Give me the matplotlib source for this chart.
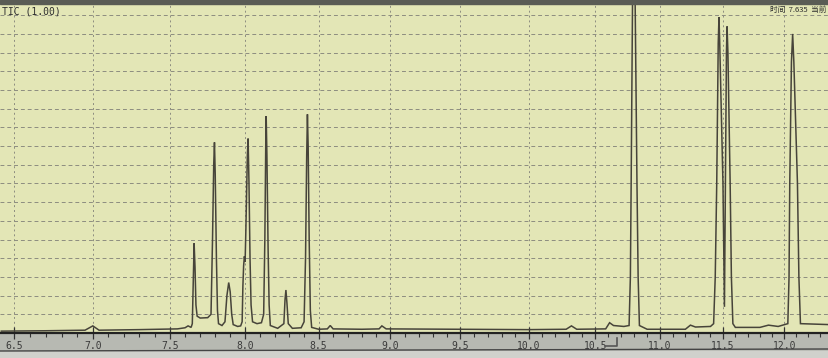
import numpy as np
import matplotlib
matplotlib.use('Agg')
import matplotlib.pyplot as plt
from matplotlib.ticker import MultipleLocator, FormatStrFormatter
from matplotlib.patches import Rectangle
from matplotlib.lines import Line2D

# retention time (min) and detector signal (grid units)
time_min = [
    6.42, 6.70, 6.95, 7.00, 7.04, 7.30, 7.55, 7.60, 7.62, 7.64,
    7.648, 7.655, 7.660, 7.666, 7.672, 7.680, 7.700, 7.750,
    7.772, 7.782, 7.790, 7.795, 7.800, 7.808, 7.815, 7.822, 7.845,
    7.865, 7.878, 7.890, 7.900, 7.910, 7.920, 7.950, 7.970,
    7.980, 7.985, 7.990, 7.995, 8.000, 8.005, 8.015, 8.020, 8.026, 8.033, 8.040, 8.050,
    8.080, 8.110, 8.125, 8.133, 8.139, 8.142, 8.147, 8.155, 8.162, 8.170,
    8.220, 8.262, 8.270, 8.276, 8.283, 8.292, 8.320, 8.380,
    8.400, 8.410, 8.418, 8.423, 8.428, 8.435, 8.443, 8.452,
    8.50, 8.56, 8.58, 8.60, 8.80, 8.92, 8.94, 8.97, 9.50, 10.00,
    10.28, 10.32, 10.36, 10.58, 10.61, 10.64, 10.72,
    10.760, 10.770, 10.776, 10.788, 10.795, 10.805, 10.821, 10.830, 10.840,
    10.90, 11.20, 11.24, 11.28, 11.40,
    11.425, 11.438, 11.450, 11.462, 11.468, 11.474, 11.500, 11.512,
    11.520, 11.528, 11.533, 11.540, 11.558, 11.568, 11.580,
    11.60, 11.80, 11.87, 11.95,
    12.030, 12.040, 12.046, 12.060, 12.070, 12.080, 12.110, 12.122, 12.135,
    12.375,
]
signal = [
    0.10, 0.12, 0.15, 0.38, 0.15, 0.18, 0.22, 0.28, 0.38, 0.30,
    0.5, 3.0, 4.8, 3.5, 1.5, 0.9, 0.80, 0.82,
    1.0, 5.0, 9.0, 10.2, 8.5, 4.0, 1.2, 0.5, 0.40,
    0.6, 2.0, 2.7, 2.2, 1.0, 0.45, 0.35, 0.38,
    0.6, 2.5, 3.6, 4.1, 3.8, 5.5, 9.5, 10.4, 8.0, 4.0, 1.5, 0.6,
    0.50, 0.55, 1.0, 5.0, 10.0, 11.6, 9.5, 4.5, 1.5, 0.4,
    0.25, 0.5, 1.8, 2.3, 1.6, 0.5, 0.25, 0.28,
    0.6, 4.0, 9.5, 11.7, 10.0, 5.0, 1.2, 0.3,
    0.2, 0.22, 0.40, 0.22, 0.2, 0.22, 0.38, 0.22, 0.2, 0.18,
    0.2, 0.38, 0.2, 0.22, 0.55, 0.40, 0.35,
    0.4, 3.0, 8.0, 19.0, 21.0, 19.0, 8.0, 3.0, 0.4,
    0.2, 0.2, 0.42, 0.32, 0.35,
    0.5, 3.0, 8.0, 15.5, 16.9, 15.5, 8.0, 1.4,
    8.0, 15.0, 16.4, 15.0, 8.0, 3.0, 0.5,
    0.3, 0.3, 0.42, 0.35,
    0.5, 3.0, 8.0, 14.5, 16.0, 14.5, 8.0, 3.0, 0.5,
    0.45,
]

header_text = 'TIC (1.00)'
cursor_text = '时间  7.635  当前'

# the photo is taken at an angle, so the time axis is squeezed to the right
K = 0.022


def fwd(v):
    u = np.asarray(v, dtype=float) - 6.5
    return u - K * u * u


def inv(f):
    f = np.asarray(f, dtype=float)
    d = np.clip(1 - 4 * K * f, 0, None)
    return 6.5 + (1 - np.sqrt(d)) / (2 * K)


fig = plt.figure(figsize=(8.29, 3.58), dpi=100)
fig.patch.set_facecolor('#b7b9b2')
ax = fig.add_axes([0, 1 - 333 / 358, 1, (333 - 4) / 358])
ax.set_facecolor('#e3e6b6')

ax.plot(time_min, signal, color='#47443a', lw=1.1, solid_joinstyle='miter')

ax.set_xscale('function', functions=(fwd, inv))
ax.set_xlim(6.412, 12.375)
ax.set_ylim(0, 17.6)

ax.xaxis.set_major_locator(MultipleLocator(0.5))
ax.xaxis.set_minor_locator(MultipleLocator(0.1))
ax.xaxis.set_major_formatter(FormatStrFormatter('%.1f'))
ax.set_yticks(np.arange(1, 18))

ax.grid(axis='x', which='major', color='#8d8d80', lw=0.7, linestyle=(0, (2, 3)))
ax.grid(axis='y', color='#8d8d80', lw=0.7, linestyle=(0, (4, 3)))

ax.tick_params(axis='y', left=False, labelleft=False)
ax.tick_params(axis='x', which='major', direction='inout', length=9, width=0.9,
               color='#333333', labelsize=7, labelcolor='#3a3a3a', pad=1)
ax.tick_params(axis='x', which='minor', direction='out', length=3, width=0.8, color='#333333')
for lab in ax.get_xticklabels():
    lab.set_family('DejaVu Sans Mono')

for side in ['top', 'left', 'right']:
    ax.spines[side].set_visible(False)
ax.spines['bottom'].set_color('#222222')
ax.spines['bottom'].set_linewidth(1.6)

# screen bezel on top and scroll bar at the bottom
fig.patches.append(Rectangle((0, 1 - 4 / 358), 1, 4 / 358, transform=fig.transFigure,
                             color='#5a5c55', zorder=0))
fig.patches.append(Rectangle((0, 0), 1, 7 / 358, transform=fig.transFigure,
                             color='#d0d1cc', zorder=0))
fig.add_artist(Line2D([0, 1], [7 / 358, 9 / 358], transform=fig.transFigure,
                      color='#444444', lw=1.0))
fig.add_artist(Line2D([605 / 829, 617 / 829, 617 / 829], [12 / 358, 12 / 358, 20 / 358],
                      transform=fig.transFigure, color='#555555', lw=1.2))

fig.text(2 / 829, 1 - 11 / 358, header_text, fontsize=7, color='#2e2e2e',
         family='DejaVu Sans Mono', va='center', ha='left')
fig.text(826 / 829, 1 - 10 / 358, cursor_text, fontsize=5.5, color='#2e2e2e',
         family=['Noto Sans CJK SC', 'DejaVu Sans'], va='center', ha='right')

fig.savefig('out.png', dpi=100, facecolor=fig.get_facecolor())
